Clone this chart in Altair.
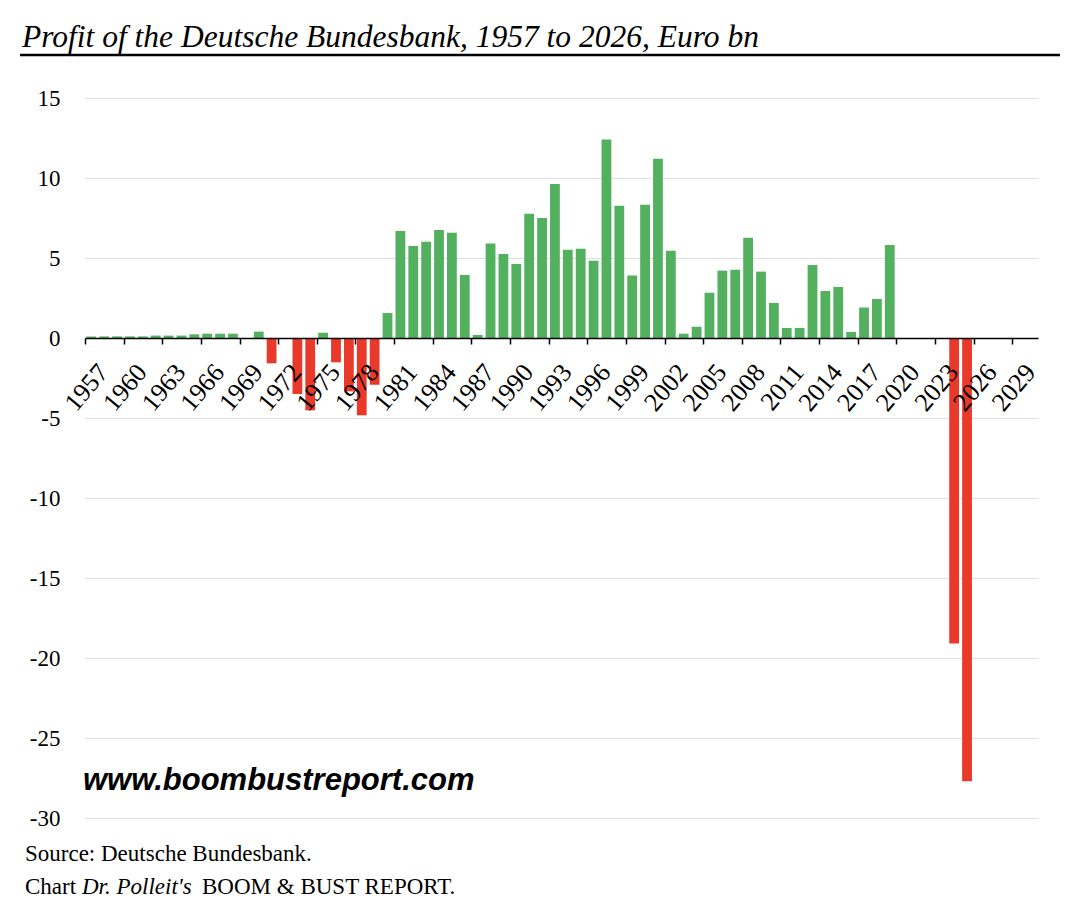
import altair as alt
import pandas as pd

years = list(range(1957, 2026))
profit = [
    0.1, 0.1, 0.1, 0.1, 0.1,          # 1957-1961
    0.15, 0.15, 0.15, 0.23, 0.27,     # 1962-1966
    0.27, 0.27, 0.0, 0.4, -1.58,      # 1967-1971
    0.0, -3.5, -4.52, 0.33, -1.52,    # 1972-1976
    -3.33, -4.83, -2.92, 1.56, 6.69,  # 1977-1981
    5.75, 6.02, 6.75, 6.58, 3.94,     # 1982-1986
    0.19, 5.9, 5.25, 4.63, 7.77,      # 1987-1991
    7.5, 9.63, 5.51, 5.58, 4.83,      # 1992-1996
    12.4, 8.27, 3.9, 8.33, 11.21,     # 1997-2001
    5.46, 0.27, 0.71, 2.83, 4.21,     # 2002-2006
    4.27, 6.27, 4.15, 2.19, 0.63,     # 2007-2011
    0.63, 4.56, 2.94, 3.19, 0.38,     # 2012-2016
    1.9, 2.44, 5.81, 0.0, 0.0,        # 2017-2021
    0.0, 0.0, -19.1, -27.7,           # 2022-2025
]
x_ticks = list(range(1957, 2030, 3))
y_ticks = [-30, -25, -20, -15, -10, -5, 0, 5, 10, 15]

title_text = "Profit of the Deutsche Bundesbank, 1957 to 2026, Euro bn"
source_text = "Source: Deutsche Bundesbank."
chart_word = "Chart"
chart_italic = "Dr. Polleit's"
chart_rest = "BOOM & BUST REPORT."
watermark = "www.boombustreport.com"

GREEN = "#52b05e"
RED = "#e8392a"
SERIF = "Liberation Serif"

df = pd.DataFrame({"year": years, "profit": profit})

W, H = 953, 720

bars = (
    alt.Chart(df)
    .transform_calculate(x0="datum.year + 0.11", x1="datum.year + 0.87",
                         sign="datum.profit < 0 ? 'neg' : 'pos'")
    .mark_bar()
    .encode(
        x=alt.X(
            "x0:Q",
            scale=alt.Scale(domain=[1957, 2031], nice=False, zero=False),
            axis=alt.Axis(
                values=x_ticks, title=None, grid=False,
                labelExpr="toString(datum.value)",
                labelAngle=-50, labelAlign="right", labelBaseline="top",
                labelFont=SERIF, labelFontSize=26, labelColor="black",
                labelPadding=15, labelOffset=8, labelOverlap=False, labelFlush=False,
                domainColor="black", domainWidth=1.5,
                tickColor="black", tickSize=6, tickWidth=1.5,
                offset=-480, zindex=1,
            ),
        ),
        x2="x1:Q",
        y=alt.Y(
            "profit:Q",
            scale=alt.Scale(domain=[-30, 15], nice=False),
            axis=alt.Axis(
                values=y_ticks, title=None, domain=False, ticks=False,
                labelExpr="toString(datum.value)",
                labelFont=SERIF, labelFontSize=23, labelColor="black",
                labelPadding=25, gridColor="#dedede", gridWidth=1,
            ),
        ),
        y2=alt.datum(0),
        color=alt.Color("sign:N", scale=alt.Scale(domain=["pos", "neg"], range=[GREEN, RED]),
                        legend=None),
    )
)

def label(text, x, y, size, font=SERIF, style="normal", weight="normal", baseline="alphabetic"):
    return (
        alt.Chart(pd.DataFrame({"t": [text]}))
        .mark_text(align="left", baseline=baseline, font=font, fontSize=size,
                   fontStyle=style, fontWeight=weight, color="black")
        .encode(x=alt.value(x), y=alt.value(y), text="t:N")
    )

title = label(title_text, -63, -51, 31.5, style="italic")
underline = (
    alt.Chart(pd.DataFrame({"a": [0]}))
    .mark_rule(color="black", strokeWidth=2.5)
    .encode(x=alt.value(-65), x2=alt.value(975), y=alt.value(-43))
)
wm = label(watermark, -2, 692, 31, font="Liberation Sans", style="italic", weight="bold")
src = label(source_text, -60, 763, 23)
c1 = label(chart_word, -60, 796, 23)
c2 = label(chart_italic, -3, 796, 23, style="italic")
c3 = label(chart_rest, 117, 796, 23)

chart = (
    alt.layer(bars, title, underline, wm, src, c1, c2, c3)
    .properties(width=W, height=H, autosize=alt.AutoSizeParams(type="none"),
                padding={"left": 77, "top": 90, "right": 32, "bottom": 94},
                view=alt.ViewBackground(stroke="transparent", strokeWidth=0))
    .configure_view(stroke="transparent", strokeWidth=0)
    .configure(background="white")
)

chart.save("out.html", embed_options={"renderer": "svg", "actions": False})
